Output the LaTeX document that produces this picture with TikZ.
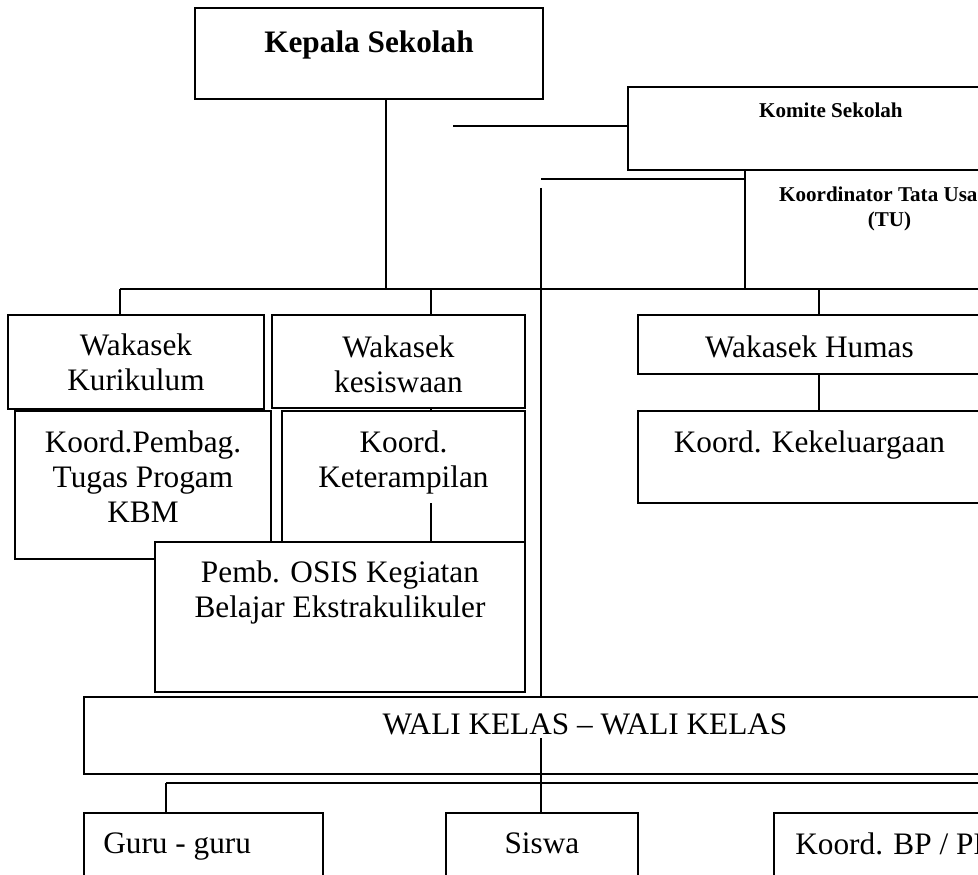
\documentclass[tikz,border=0pt]{standalone}
\usepackage{fontspec}
\setmainfont{Liberation Serif}
\newcommand\boxfont{\fontsize{17.8}{20}\selectfont}
\newcommand\smallbold{\fontsize{12}{13.8}\selectfont\bfseries}
\tikzset{
  orgbox/.style 2 args={draw, line width=1.1pt, fill=white, anchor=north west, inner sep=0pt,
    minimum width=#1*0.02cm, minimum height=#2*0.02cm},
  boxtext/.style={anchor=north, inner sep=0pt, align=center, font=\boxfont},
  link/.style={line width=1.1pt},
}
\begin{document}
\begin{tikzpicture}[x=0.02cm, y=-0.02cm]
\useasboundingbox (0,0) rectangle (978,875);
\clip (0,0) rectangle (978,875);
% top
\node [orgbox={348}{91}, label={[boxtext, font=\boxfont\bfseries, yshift=-0.46cm]north:Kepala Sekolah}] (kepala) at (194,7) {};
\node [orgbox={406}{83}, label={[boxtext, font=\smallbold, yshift=-0.34cm]north:Komite Sekolah}] (komite) at (627,86) {};
\node [orgbox={289}{119}, label={[boxtext, font=\smallbold, yshift=-0.36cm]north:{Koordinator Tata Usaha\\(TU)}}] (tu) at (744,169) {};
% wakasek
\node [orgbox={256}{94}, label={[boxtext, yshift=-0.38cm]north:{Wakasek\\Kurikulum}}] (kur) at (7,314) {};
\node [orgbox={253}{93}, label={[boxtext, yshift=-0.42cm]north:{Wakasek\\kesiswaan}}] (kes) at (271,314) {};
\node [orgbox={343}{59}, label={[boxtext, yshift=-0.42cm]north:Wakasek Humas}] (humas) at (637,314) {};
% koordinator
\node [orgbox={256}{148}, label={[boxtext, yshift=-0.40cm]north:{Koord.Pembag.\\Tugas Progam\\KBM}}] (pembag) at (14,410) {};
\node [orgbox={243}{131}, label={[boxtext, yshift=-0.40cm]north:{Koord.\\Keterampilan}}] (ketr) at (281,410) {};
\node [orgbox={343}{92}, label={[boxtext, yshift=-0.40cm]north:Koord. Kekeluargaan}] (kel) at (637,410) {};
\node [orgbox={370}{150}, label={[boxtext, yshift=-0.38cm]north:{Pemb. OSIS Kegiatan\\Belajar Ekstrakulikuler}}] (osis) at (154,541) {};
% bottom
\node [orgbox={1002}{77}, label={[boxtext, yshift=-0.34cm]north:WALI KELAS -- WALI KELAS}] (wali) at (83,696) {};
\node [orgbox={239}{100}, label={[boxtext, anchor=north west, xshift=0.4cm, yshift=-0.40cm]north west:Guru - guru}] (guru) at (83,812) {};
\node [orgbox={192}{100}, label={[boxtext, yshift=-0.40cm]north:Siswa}] (siswa) at (445,812) {};
\node [orgbox={250}{100}, label={[boxtext, anchor=north west, xshift=0.44cm, yshift=-0.40cm]north west:Koord. BP / PI}] (bp) at (773,812) {};

\coordinate (ks) at (386,289);
\coordinate (km) at (453,126);
\coordinate (tl) at (541,179);
\coordinate (wl) at (541,188);
\coordinate (bw) at (120,289);
\coordinate (be) at (985,289);
\coordinate (bk) at (431,289);
\coordinate (ko) at (431,503);
\coordinate (bh) at (819,289);
\coordinate (ws) at (541,738);
\coordinate (gw) at (166,783);
\coordinate (ge) at (985,783);

\draw [link] (kepala.south -| ks) -- (ks);
\draw [link] (km) -- (km -| komite.west);
\draw [link] (tl) -- (tl -| tu.west);
\draw [link] (wl) -- (wl |- wali.north);
\draw [link] (bw) -- (be);
\draw [link] (bw) -- (bw |- kur.north);
\draw [link] (kur.south -| bw) -- (pembag.north -| bw);
\draw [link] (bk) -- (bk |- kes.north);
\draw [link] (kes.south -| bk) -- (ketr.north -| bk);
\draw [link] (ko) -- (ko |- osis.north);
\draw [link] (tu.south -| bh) -- (humas.north -| bh);
\draw [link] (humas.south -| bh) -- (kel.north -| bh);
\draw [link] (ws) -- (ws |- siswa.north);
\draw [link] (gw) -- (ge);
\draw [link] (gw) -- (gw |- guru.north);
\end{tikzpicture}
\end{document}
